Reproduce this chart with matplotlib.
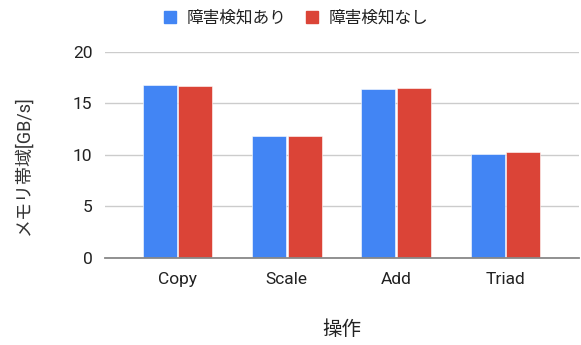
import numpy as np
import matplotlib.pyplot as plt
from matplotlib.patches import Patch

plt.rcParams['font.family'] = ['Roboto', 'Noto Sans CJK JP', 'DejaVu Sans']

operations = ['Copy', 'Scale', 'Add', 'Triad']
with_detect = [16.75, 11.86, 16.36, 10.1]
without_detect = [16.65, 11.86, 16.46, 10.3]
series_names = ['障害検知あり', '障害検知なし']
yticks = [0, 5, 10, 15, 20]

blue = '#4285F4'
red = '#DB4437'

fig = plt.figure(figsize=(5.81, 3.45), dpi=100)
ax = fig.add_axes([0.1807, 0.2530, 0.8159, 0.5971])

x = np.arange(len(operations))
w = 0.311
ax.bar(x - 0.162, with_detect, w, color=blue, edgecolor='white', linewidth=0.4, zorder=3)
ax.bar(x + 0.162, without_detect, w, color=red, edgecolor='white', linewidth=0.4, zorder=3)

ax.set_xlim(-0.663, 3.672)
ax.set_ylim(0, 20)
ax.set_yticks(yticks)
ax.set_xticks(x)
ax.set_xticklabels(operations)
ax.tick_params(length=0, labelsize=12.5, colors='#222222')
ax.tick_params(axis='y', pad=9)
ax.tick_params(axis='x', pad=10)
ax.grid(axis='y', color='#cccccc', linewidth=1, zorder=0)
for s in ['top', 'right', 'left']:
    ax.spines[s].set_visible(False)
ax.spines['bottom'].set_color('#888888')
ax.spines['bottom'].set_linewidth(1.3)
ax.spines['bottom'].set_zorder(4)

fig.text(0.041, 0.522, 'メモリ帯域[GB/s]', rotation=90, ha='center', va='center',
         fontsize=13, color='#333333')
fig.text(0.589, 0.043, '操作', ha='center', va='center', fontsize=14, color='#222222')

handles = [Patch(color=blue), Patch(color=red)]
fig.legend(handles, series_names, loc='center', bbox_to_anchor=(0.510, 0.948), ncol=2,
           frameon=False, fontsize=12, handlelength=0.7, handleheight=0.7,
           handletextpad=0.65, columnspacing=1.2, labelcolor='#222222')

fig.savefig('out.png', dpi=100)
